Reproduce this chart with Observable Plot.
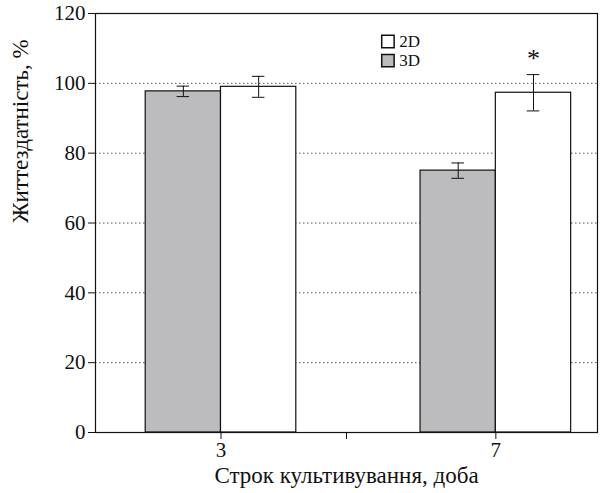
<!DOCTYPE html>
<html><head><meta charset="utf-8">
<script src="https://cdn.jsdelivr.net/npm/d3@7"></script>
<script src="https://cdn.jsdelivr.net/npm/@observablehq/plot@0.6"></script>
<style>body{margin:0;background:#fff}</style>
</head><body><div id="chart"></div>
<script>
const days = ['3', '7'];
const dayPos = [1, 3.19];
const series = ['3D', '2D'];
const values3D = [97.7, 75.0];
const errors3D = [1.5, 2.2];
const values2D = [99.0, 97.3];
const errors2D = [3.0, 5.2];
const yTicks = [0, 20, 40, 60, 80, 100, 120];

// 3D bar left of the day position, 2D bar right of it
const rows = [];
days.forEach((d, i) => {
  const c = dayPos[i];
  rows.push({day: d, s: '3D', x1: c - 0.6, x2: c, v: values3D[i], e: errors3D[i]});
  rows.push({day: d, s: '2D', x1: c, x2: c + 0.6, v: values2D[i], e: errors2D[i]});
});
rows.forEach(r => r.xm = (r.x1 + r.x2) / 2);
const caps = rows.flatMap(d => [{x: d.xm, y: d.v - d.e}, {x: d.xm, y: d.v + d.e}]);
const fills = {'3D': '#bcbcbe', '2D': '#ffffff'};
const legend = [{s: '2D', y: 112}, {s: '3D', y: 106.5}];

const chart = Plot.plot({
  width: 605, height: 493,
  marginLeft: 95, marginRight: 8, marginTop: 13, marginBottom: 61,
  style: {fontFamily: 'Liberation Serif, DejaVu Serif, serif', fontSize: '21px', color: '#111'},
  x: {domain: [0, 4], ticks: [dayPos[0], 2, dayPos[1]], tickFormat: d => d === dayPos[0] ? days[0] : d === dayPos[1] ? days[1] : '', tickSize: 7, label: null},
  y: {domain: [0, 120], ticks: yTicks, tickSize: 7, label: null},
  marks: [
    Plot.ruleY(yTicks.filter(t => t > 0 && t < 120), {stroke: '#555', strokeDasharray: '1.5,2.5', strokeWidth: 1}),
    Plot.rectY(rows, {x1: 'x1', x2: 'x2', y1: 0, y2: 'v', fill: d => fills[d.s], stroke: '#111', strokeWidth: 1.2}),
    Plot.ruleX(rows, {x: 'xm', y1: d => d.v - d.e, y2: d => d.v + d.e, stroke: '#111'}),
    Plot.ruleY(caps, {y: 'y', x1: d => d.x - 0.05, x2: d => d.x + 0.05, stroke: '#111'}),
    Plot.text(['*'], {x: rows[3].xm, y: 107, text: d => d, fontSize: 26}),
    Plot.dot(legend, {x: 2.33, y: 'y', symbol: 'square', r: 7, fill: d => fills[d.s], stroke: '#111'}),
    Plot.text(legend, {x: 2.42, y: 'y', text: 's', textAnchor: 'start', fontSize: 17}),
    Plot.text(['Життездатність, %'], {frameAnchor: 'left', dx: -75, rotate: -90, fontSize: 23}),
    Plot.text(['Строк культивування, доба'], {frameAnchor: 'bottom', dy: 50, fontSize: 23}),
    Plot.frame({stroke: '#111', strokeWidth: 1.2})
  ]
});
document.getElementById('chart').append(chart);
</script></body></html>
